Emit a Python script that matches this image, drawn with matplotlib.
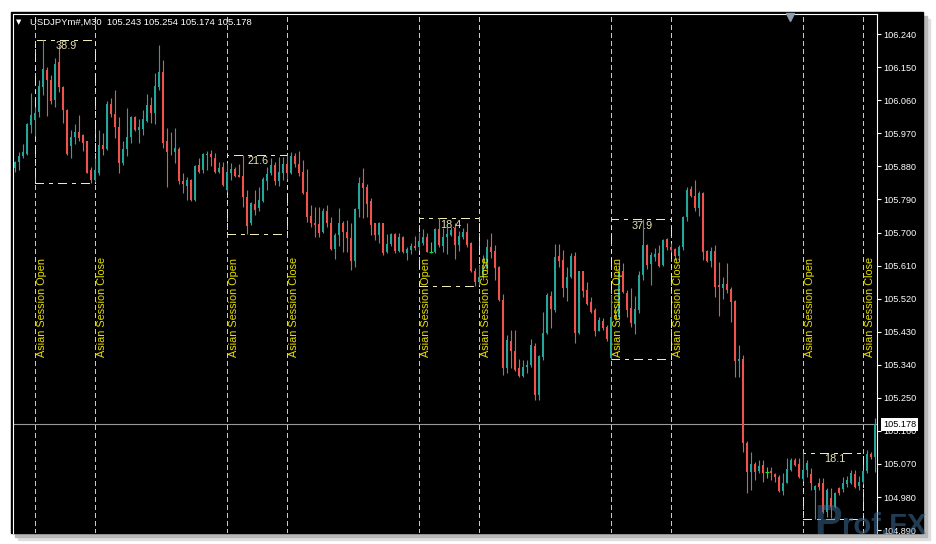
import numpy as np
import matplotlib
matplotlib.use('Agg')
import matplotlib.pyplot as plt
from matplotlib.patches import Rectangle

plt.rcParams['font.family'] = ['Liberation Sans', 'DejaVu Sans']

# colours (MT4 dark template)
C_UP = '#26a69a'
C_DN = '#ef5350'
C_DOJI = '#19e619'
C_SESS = '#ffd400'
C_BOX = '#f0ebb4'
C_LBL = '#e6e0b4'
C_TXT = '#e8e000'

# USDJPY M30 candles
opens = [
    105.875, 105.893, 105.909, 105.915, 105.993, 106.007, 106.027, 106.097, 106.143, 106.116, 106.061, 106.163,
    106.097, 106.034, 105.936, 105.960, 105.975, 105.966, 105.948, 105.869, 105.843, 105.862, 105.939, 105.927,
    106.050, 106.023, 105.988, 105.889, 105.928, 105.960, 106.014, 105.978, 105.981, 106.005, 106.047, 106.025,
    106.097, 106.138, 105.948, 105.920, 105.918, 105.927, 105.841, 105.827, 105.843, 105.789, 105.884, 105.870,
    105.911, 105.914, 105.902, 105.866, 105.878, 105.815, 105.863, 105.872, 105.857, 105.854, 105.796, 105.725,
    105.778, 105.766, 105.787, 105.841, 105.861, 105.884, 105.841, 105.861, 105.887, 105.861, 105.909, 105.887,
    105.866, 105.811, 105.745, 105.727, 105.724, 105.702, 105.760, 105.727, 105.654, 105.693, 105.725, 105.702,
    105.684, 105.623, 105.763, 105.834, 105.825, 105.787, 105.725, 105.693, 105.725, 105.648, 105.669, 105.696,
    105.651, 105.689, 105.645, 105.652, 105.663, 105.662, 105.671, 105.687, 105.648, 105.648, 105.709, 105.664,
    105.687, 105.693, 105.712, 105.666, 105.687, 105.702, 105.671, 105.596, 105.564, 105.578, 105.603, 105.662,
    105.651, 105.607, 105.516, 105.330, 105.406, 105.378, 105.330, 105.309, 105.333, 105.339, 105.391, 105.258,
    105.360, 105.426, 105.527, 105.489, 105.636, 105.625, 105.548, 105.578, 105.636, 105.427, 105.594, 105.544,
    105.512, 105.489, 105.433, 105.460, 105.444, 105.358, 105.476, 105.469, 105.594, 105.536, 105.494, 105.451,
    105.489, 105.585, 105.666, 105.614, 105.633, 105.645, 105.612, 105.682, 105.660, 105.654, 105.636, 105.662,
    105.742, 105.818, 105.800, 105.766, 105.809, 105.651, 105.623, 105.651, 105.557, 105.548, 105.560, 105.546,
    105.514, 105.351, 105.357, 105.126, 105.049, 105.070, 105.052, 105.067, 105.049, 105.052, 105.043, 105.035,
    104.997, 105.019, 105.053, 105.081, 105.070, 105.028, 105.053, 105.043, 104.999, 105.017, 105.017, 104.940,
    104.977, 104.952, 105.004, 105.001, 105.015, 105.017, 105.043, 105.010, 105.022, 105.052, 105.097, 105.088,
]
highs = [
    105.896, 105.918, 105.941, 105.998, 106.079, 106.043, 106.116, 106.224, 106.150, 106.129, 106.175, 106.211,
    106.100, 106.036, 105.979, 105.996, 106.020, 105.968, 105.950, 105.878, 105.903, 105.978, 105.972, 106.057,
    106.065, 106.088, 106.014, 105.948, 106.039, 106.018, 106.018, 106.008, 106.034, 106.077, 106.070, 106.134,
    106.211, 106.170, 105.984, 105.975, 105.984, 105.932, 105.862, 105.852, 105.846, 105.884, 105.902, 105.916,
    105.923, 105.925, 105.916, 105.893, 105.893, 105.889, 105.889, 105.879, 105.887, 105.912, 105.816, 105.784,
    105.816, 105.825, 105.851, 105.879, 105.902, 105.893, 105.905, 105.907, 105.911, 105.920, 105.916, 105.923,
    105.898, 105.872, 105.775, 105.770, 105.770, 105.766, 105.775, 105.742, 105.698, 105.766, 105.732, 105.734,
    105.725, 105.766, 105.852, 105.875, 105.832, 105.793, 105.727, 105.729, 105.727, 105.696, 105.700, 105.698,
    105.698, 105.690, 105.661, 105.671, 105.691, 105.702, 105.709, 105.700, 105.675, 105.712, 105.739, 105.712,
    105.716, 105.716, 105.725, 105.705, 105.712, 105.725, 105.675, 105.603, 105.612, 105.639, 105.682, 105.698,
    105.666, 105.609, 105.533, 105.421, 105.435, 105.435, 105.355, 105.353, 105.353, 105.409, 105.399, 105.366,
    105.485, 105.536, 105.542, 105.669, 105.669, 105.652, 105.607, 105.644, 105.648, 105.596, 105.596, 105.566,
    105.525, 105.494, 105.471, 105.467, 105.448, 105.530, 105.498, 105.625, 105.616, 105.544, 105.548, 105.527,
    105.596, 105.736, 105.668, 105.648, 105.657, 105.666, 105.682, 105.684, 105.671, 105.657, 105.666, 105.745,
    105.825, 105.827, 105.843, 105.814, 105.811, 105.653, 105.662, 105.666, 105.621, 105.580, 105.618, 105.551,
    105.516, 105.394, 105.366, 105.133, 105.103, 105.076, 105.081, 105.081, 105.061, 105.063, 105.044, 105.040,
    105.044, 105.085, 105.085, 105.085, 105.085, 105.101, 105.081, 105.058, 105.012, 105.031, 105.031, 105.004,
    105.004, 104.994, 105.008, 105.035, 105.037, 105.053, 105.053, 105.037, 105.053, 105.108, 105.103, 105.194,
]
lows = [
    105.866, 105.870, 105.902, 105.911, 105.970, 105.963, 106.014, 106.075, 106.018, 106.050, 106.041, 106.084,
    105.998, 105.912, 105.902, 105.941, 105.948, 105.923, 105.861, 105.835, 105.838, 105.856, 105.911, 105.925,
    106.015, 105.957, 105.863, 105.884, 105.909, 105.943, 105.976, 105.943, 105.966, 106.002, 105.998, 105.996,
    106.088, 105.930, 105.823, 105.911, 105.889, 105.832, 105.807, 105.789, 105.787, 105.787, 105.862, 105.863,
    105.870, 105.881, 105.863, 105.863, 105.828, 105.811, 105.843, 105.852, 105.850, 105.770, 105.696, 105.721,
    105.748, 105.760, 105.784, 105.816, 105.857, 105.830, 105.827, 105.843, 105.845, 105.859, 105.878, 105.854,
    105.805, 105.730, 105.714, 105.687, 105.687, 105.700, 105.714, 105.652, 105.627, 105.663, 105.648, 105.648,
    105.598, 105.607, 105.743, 105.739, 105.743, 105.693, 105.680, 105.671, 105.639, 105.644, 105.663, 105.645,
    105.647, 105.644, 105.626, 105.642, 105.652, 105.652, 105.666, 105.646, 105.644, 105.645, 105.662, 105.648,
    105.642, 105.691, 105.627, 105.651, 105.682, 105.662, 105.592, 105.555, 105.557, 105.571, 105.594, 105.630,
    105.571, 105.514, 105.312, 105.317, 105.330, 105.324, 105.307, 105.307, 105.317, 105.335, 105.244, 105.244,
    105.353, 105.424, 105.439, 105.485, 105.607, 105.525, 105.514, 105.576, 105.398, 105.425, 105.525, 105.503,
    105.482, 105.418, 105.431, 105.435, 105.406, 105.357, 105.462, 105.462, 105.535, 105.471, 105.444, 105.424,
    105.480, 105.571, 105.600, 105.557, 105.623, 105.607, 105.610, 105.652, 105.648, 105.626, 105.626, 105.652,
    105.732, 105.798, 105.760, 105.745, 105.626, 105.621, 105.606, 105.525, 105.473, 105.518, 105.535, 105.457,
    105.307, 105.307, 105.103, 104.992, 104.999, 105.026, 105.046, 105.022, 105.031, 105.026, 105.022, 104.994,
    104.985, 105.017, 105.052, 105.064, 105.032, 105.024, 105.035, 104.999, 104.920, 104.999, 104.937, 104.925,
    104.922, 104.949, 104.985, 104.994, 105.008, 105.015, 105.004, 104.999, 105.015, 105.046, 105.083, 105.049,
]
closes = [
    105.893, 105.909, 105.920, 105.996, 106.020, 106.025, 106.099, 106.145, 106.114, 106.059, 106.159, 106.096,
    106.034, 105.914, 105.961, 105.975, 105.957, 105.945, 105.863, 105.843, 105.869, 105.939, 105.927, 106.050,
    106.023, 105.988, 105.889, 105.928, 105.960, 106.014, 105.978, 105.987, 106.008, 106.047, 106.025, 106.099,
    106.138, 105.945, 105.918, 105.918, 105.930, 105.841, 105.832, 105.843, 105.789, 105.881, 105.866, 105.914,
    105.914, 105.905, 105.866, 105.875, 105.830, 105.866, 105.872, 105.854, 105.852, 105.796, 105.718, 105.780,
    105.762, 105.789, 105.845, 105.860, 105.884, 105.841, 105.866, 105.887, 105.861, 105.909, 105.887, 105.861,
    105.807, 105.742, 105.725, 105.721, 105.698, 105.760, 105.725, 105.654, 105.693, 105.725, 105.702, 105.684,
    105.623, 105.763, 105.836, 105.821, 105.778, 105.721, 105.693, 105.727, 105.645, 105.669, 105.696, 105.651,
    105.689, 105.648, 105.654, 105.663, 105.657, 105.678, 105.687, 105.648, 105.648, 105.709, 105.666, 105.687,
    105.696, 105.707, 105.666, 105.691, 105.702, 105.666, 105.594, 105.564, 105.578, 105.603, 105.662, 105.648,
    105.603, 105.516, 105.330, 105.408, 105.378, 105.326, 105.309, 105.333, 105.339, 105.394, 105.258, 105.364,
    105.427, 105.530, 105.491, 105.634, 105.623, 105.548, 105.578, 105.636, 105.427, 105.594, 105.542, 105.506,
    105.485, 105.433, 105.462, 105.439, 105.409, 105.469, 105.469, 105.594, 105.539, 105.489, 105.453, 105.491,
    105.585, 105.666, 105.612, 105.639, 105.642, 105.609, 105.680, 105.662, 105.652, 105.636, 105.660, 105.743,
    105.816, 105.800, 105.766, 105.807, 105.648, 105.623, 105.651, 105.553, 105.553, 105.560, 105.544, 105.512,
    105.351, 105.357, 105.126, 105.049, 105.070, 105.049, 105.064, 105.046, 105.049, 105.044, 105.034, 104.997,
    105.019, 105.055, 105.081, 105.067, 105.034, 105.053, 105.072, 105.017, 105.010, 105.008, 104.940, 104.999,
    104.953, 104.990, 104.992, 105.019, 105.026, 105.046, 105.006, 105.022, 105.052, 105.097, 105.088, 105.178,
]

# Asian session (bar index of open / close marker)
session_open = [5, 53, 101, 149, 197]
session_close = [20, 68, 116, 164, 212]

price_ticks = [104.890, 104.980, 105.070, 105.160, 105.250, 105.340, 105.430, 105.520,
               105.610, 105.700, 105.790, 105.880, 105.970, 106.060, 106.150, 106.240]
last_price = 105.178
header = 'USDJPYm#,M30  105.243 105.254 105.174 105.178'

W, H = 936, 544


def px_rect(x0, y0, x1, y1):
    """pixel box (top-left origin) -> figure fraction [l, b, w, h]"""
    return [x0 / W, 1 - y1 / H, (x1 - x0) / W, (y1 - y0) / H]


fig = plt.figure(figsize=(W / 100, H / 100), dpi=100)
fig.patch.set_facecolor('white')

# window shadow + black terminal window
for off, col in [(7, '#dedede'), (4, '#b8b8b8')]:
    l, b, w, h = px_rect(11 + off, 12 + off, 923 + off, 533 + off)
    fig.add_artist(Rectangle((l, b), w, h, transform=fig.transFigure,
                             color=col, zorder=0))
l, b, w, h = px_rect(11, 12, 923, 533)
fig.add_artist(Rectangle((l, b), w, h, transform=fig.transFigure,
                         color='black', zorder=0))

ax = fig.add_axes(px_rect(13, 14, 877, 533))
ax.set_facecolor('black')
for s in ['top', 'left', 'right']:
    ax.spines[s].set_color('white')
    ax.spines[s].set_linewidth(0.8)
ax.spines['bottom'].set_visible(False)

o = np.array(opens)
hi = np.array(highs)
lo = np.array(lows)
c = np.array(closes)
x = np.arange(len(o))

ax.set_xlim(-0.5, len(o) - 0.5)
ax.set_ylim(104.882, 106.295)

# current price line
ax.axhline(last_price, color='#9a9a9a', linewidth=0.8, zorder=1)

# ── candles ────────────────────────────────────────────────────────────
up = c > o
dn = c < o
dj = c == o
body_min = 0.0025
for mask, col in [(up, C_UP), (dn, C_DN)]:
    ax.vlines(x[mask], lo[mask], hi[mask], color=col, linewidth=0.8, zorder=3)
    hgt = np.maximum(np.abs(c[mask] - o[mask]), body_min)
    ax.bar(x[mask], hgt, bottom=np.minimum(o[mask], c[mask]), width=0.72,
           color=col, linewidth=0, zorder=3)
ax.vlines(x[dj], lo[dj], hi[dj], color=C_DOJI, linewidth=0.8, zorder=3)
ax.hlines(o[dj], x[dj] - 0.4, x[dj] + 0.4, color=C_DOJI, linewidth=0.8, zorder=3)

# ── Asian session markers + range boxes ───────────────────────────────
xax = ax.get_xaxis_transform()
for so, sc in zip(session_open, session_close):
    for xi, lab in [(so, 'Asian Session Open'), (sc, 'Asian Session Close')]:
        ax.axvline(xi, color=C_SESS, linewidth=0.75, dashes=(4, 3),
                   antialiased=False, zorder=2)
        ax.annotate(lab, xy=(xi, 0.339), xycoords=xax, xytext=(5, 0),
                    textcoords='offset points', rotation=90, ha='center',
                    va='bottom', color=C_TXT, fontsize=7.8, zorder=4)
    s_hi = hi[so:sc + 1].max()
    s_lo = lo[so:sc + 1].min()
    ax.add_patch(Rectangle((so, s_lo), sc - so, s_hi - s_lo, fill=False,
                           edgecolor=C_BOX, linewidth=0.75, antialiased=False,
                           linestyle=(0, (8, 5, 3, 5)), zorder=2))
    ax.annotate(f'{(s_hi - s_lo) * 100:.1f}', xy=((so + sc) / 2, s_hi),
                xytext=(1, -1), textcoords='offset points', ha='center',
                va='top', color=C_LBL, fontsize=7.8, zorder=5)

# ── price scale ───────────────────────────────────────────────────────
ax.set_xticks([])
ax.yaxis.tick_right()
ax.set_yticks(price_ticks)
ax.yaxis.set_major_formatter(matplotlib.ticker.FormatStrFormatter('%.3f'))
ax.tick_params(axis='y', colors='white', labelsize=6.6, length=3, width=0.8,
               pad=1.5)

ax.annotate(f'{last_price:.3f}', xy=(1, last_price),
            xycoords=ax.get_yaxis_transform(), xytext=(4.3, 0),
            textcoords='offset points', ha='left', va='center',
            color='black', fontsize=6.6, zorder=6, annotation_clip=False,
            bbox=dict(boxstyle='square,pad=0.2', fc='white', ec='none'))

# chart shift marker
ax.plot([0.899], [0.994], transform=ax.transAxes, marker='v', markersize=6,
        color='#8c9db2', clip_on=False, zorder=6)

# header
fig.text(30 / W, 1 - 22 / H, header, color='white', fontsize=6.8, va='center')
fig.text(19 / W, 1 - 22 / H, '\u25bc', color='white', fontsize=5,
         va='center', ha='center', family='DejaVu Sans')

# watermark
fig.text(814 / W, 1 / H, 'P', color='#3f6f9a', alpha=0.5, fontsize=30,
         fontweight='bold', va='bottom', ha='left')
fig.text(842 / W, 4 / H, 'rof.FX', color='#3f6f9a', alpha=0.55, fontsize=21,
         fontweight='bold', va='bottom', ha='left')

fig.savefig('out.png', dpi=100, facecolor=fig.get_facecolor())
